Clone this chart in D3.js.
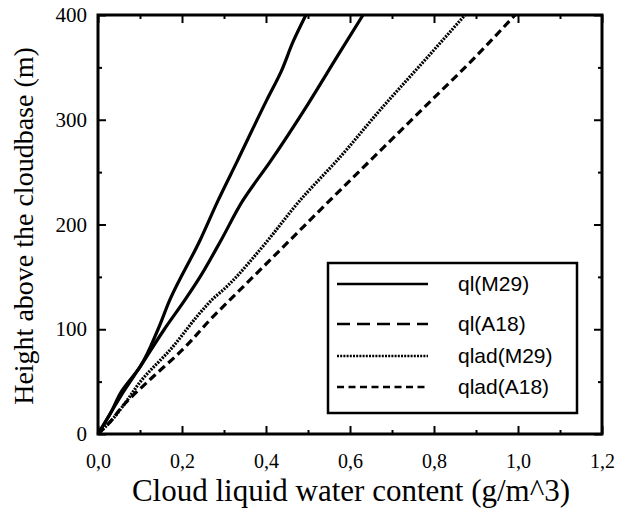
<!DOCTYPE html>
<html>
<head>
<meta charset="utf-8">
<script src="https://cdn.jsdelivr.net/npm/d3@7"></script>
<style>
  html, body { margin: 0; padding: 0; background: #fff; }
  svg { display: block; }
</style>
</head>
<body>
<svg id="chart" width="617" height="508"></svg>
<script>
// Liquid water content profiles above cloud base
const xTicks = [0, 0.2, 0.4, 0.6, 0.8, 1.0, 1.2];
const yTicks = [0, 100, 200, 300, 400];

const qlM29_h = [0, 20, 40, 64, 100, 128, 185, 223, 260, 319, 346, 375, 400];
const qlM29_q = [0, 0.03, 0.055, 0.100, 0.143, 0.171, 0.243, 0.286, 0.331, 0.402, 0.436, 0.465, 0.495];

const qlA18_h = [0, 20, 40, 64, 100, 128, 150, 185, 223, 260, 315, 360, 400];
const qlA18_q = [0, 0.03, 0.06, 0.100, 0.158, 0.207, 0.243, 0.293, 0.345, 0.41, 0.50, 0.569, 0.631];

const qladM29_h = [0, 12, 27, 52, 80, 118, 128, 139, 176, 223, 266, 309, 355, 400];
const qladM29_q = [0, 0.03, 0.06, 0.105, 0.171, 0.248, 0.271, 0.302, 0.386, 0.481, 0.58, 0.671, 0.774, 0.874];

const qladA18_h = [0, 12, 25, 52, 80, 112, 128, 169, 223, 289, 319, 350, 400];
const qladA18_q = [0, 0.03, 0.055, 0.124, 0.2, 0.274, 0.314, 0.417, 0.552, 0.719, 0.795, 0.874, 0.993];

const seriesNames = ["ql(M29)", "ql(A18)", "qlad(M29)", "qlad(A18)"];

const series = [
  { name: seriesNames[0], q: qlM29_q, h: qlM29_h, dash: null, legendDash: null },
  { name: seriesNames[1], q: qlA18_q, h: qlA18_h, dash: null, legendDash: "13,7" },
  { name: seriesNames[2], q: qladM29_q, h: qladM29_h, dash: "2,1.2", legendDash: "2,1.2" },
  { name: seriesNames[3], q: qladA18_q, h: qladA18_h, dash: "8,4.5", legendDash: "7,4.5" }
];

const svg = d3.select("#chart");
const mLeft = 98, mRight = 602, mTop = 15, mBottom = 434;

const x = d3.scaleLinear().domain([0, 1.2]).range([mLeft, mRight]);
const y = d3.scaleLinear().domain([0, 400]).range([mBottom, mTop]);

const fmt = d => d3.format(".1f")(d).replace(".", ",");
const serif = "'Liberation Serif', 'Times New Roman', serif";
const sans = "'Liberation Sans', Arial, sans-serif";

const xMinor = d3.range(0.1, 1.2, 0.2);
const yMinor = d3.range(50, 400, 100);

function styleAxis(g) {
  g.select(".domain").remove();
  g.selectAll(".tick line").attr("stroke", "#000").attr("stroke-width", 2);
}

// bottom axis with labels
svg.append("g").attr("transform", `translate(0,${mBottom})`)
  .call(d3.axisBottom(x).tickValues(xTicks).tickFormat(fmt).tickSize(-8).tickPadding(20))
  .call(styleAxis)
  .call(g => g.selectAll("text").attr("font-family", serif).attr("font-size", 20).attr("fill", "#000"));
svg.append("g").attr("transform", `translate(0,${mBottom})`)
  .call(d3.axisBottom(x).tickValues(xMinor).tickFormat("").tickSize(-4))
  .call(styleAxis);

// top axis
svg.append("g").attr("transform", `translate(0,${mTop})`)
  .call(d3.axisTop(x).tickValues(xTicks).tickFormat("").tickSize(-8))
  .call(styleAxis);
svg.append("g").attr("transform", `translate(0,${mTop})`)
  .call(d3.axisTop(x).tickValues(xMinor).tickFormat("").tickSize(-4))
  .call(styleAxis);

// left axis with labels
svg.append("g").attr("transform", `translate(${mLeft},0)`)
  .call(d3.axisLeft(y).tickValues(yTicks).tickFormat(d3.format("d")).tickSize(-8).tickPadding(11))
  .call(styleAxis)
  .call(g => g.selectAll("text").attr("font-family", serif).attr("font-size", 21).attr("fill", "#000"));
svg.append("g").attr("transform", `translate(${mLeft},0)`)
  .call(d3.axisLeft(y).tickValues(yMinor).tickFormat("").tickSize(-4))
  .call(styleAxis);

// right axis
svg.append("g").attr("transform", `translate(${mRight},0)`)
  .call(d3.axisRight(y).tickValues(yTicks).tickFormat("").tickSize(-8))
  .call(styleAxis);
svg.append("g").attr("transform", `translate(${mRight},0)`)
  .call(d3.axisRight(y).tickValues(yMinor).tickFormat("").tickSize(-4))
  .call(styleAxis);

// frame
svg.append("rect")
  .attr("x", mLeft).attr("y", mTop)
  .attr("width", mRight - mLeft).attr("height", mBottom - mTop)
  .attr("fill", "none").attr("stroke", "#000").attr("stroke-width", 3);

// profiles (height increases monotonically along each profile)
const line = d3.line().curve(d3.curveMonotoneY).x(d => x(d[0])).y(d => y(d[1]));
svg.append("g").selectAll("path")
  .data(series)
  .join("path")
  .attr("d", s => line(s.q.map((q, i) => [q, s.h[i]])))
  .attr("fill", "none")
  .attr("stroke", "#000")
  .attr("stroke-width", 3.2)
  .attr("stroke-linejoin", "round")
  .attr("stroke-dasharray", s => s.dash);

// legend
const lg = svg.append("g");
lg.append("rect")
  .attr("x", 328).attr("y", 263).attr("width", 249).attr("height", 150)
  .attr("fill", "#fff").attr("stroke", "#000").attr("stroke-width", 2.5);
const rowY = [284, 324, 356, 387];
const rows = lg.selectAll("g.row").data(series).join("g").attr("class", "row")
  .attr("transform", (d, i) => `translate(0,${rowY[i]})`);
rows.append("line")
  .attr("x1", 337).attr("x2", 428).attr("y1", 0).attr("y2", 0)
  .attr("stroke", "#000").attr("stroke-width", 2.5)
  .attr("stroke-dasharray", d => d.legendDash);
rows.append("text")
  .attr("x", 458).attr("y", 0).attr("dy", "0.35em")
  .attr("font-family", sans).attr("font-size", 21)
  .text(d => d.name);

// axis titles
svg.append("text")
  .attr("x", 351).attr("y", 501)
  .attr("text-anchor", "middle")
  .attr("font-family", serif).attr("font-size", 31)
  .text("Cloud liquid water content (g/m^3)");
svg.append("text")
  .attr("transform", "translate(33,226) rotate(-90)")
  .attr("text-anchor", "middle")
  .attr("font-family", serif).attr("font-size", 28)
  .text("Height above the cloudbase (m)");
</script>
</body>
</html>
